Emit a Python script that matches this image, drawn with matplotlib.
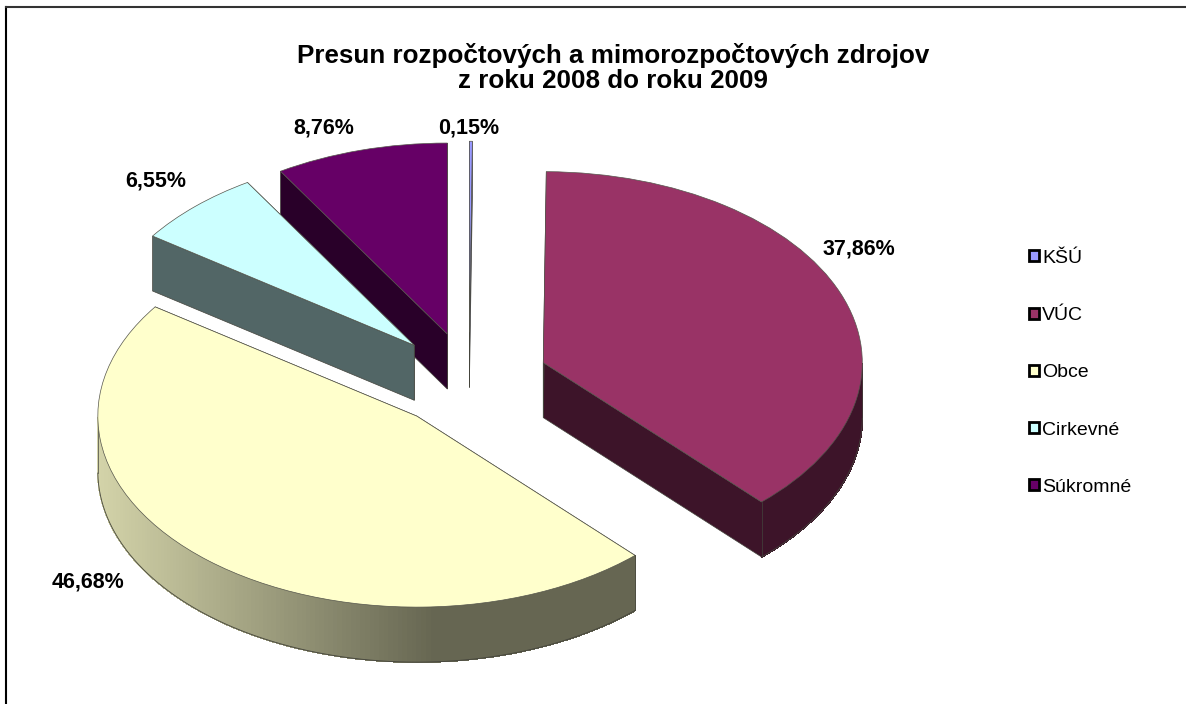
import numpy as np
from matplotlib import pyplot as plt
from matplotlib.collections import PolyCollection
from matplotlib.colors import to_rgb
from matplotlib.lines import Line2D
from matplotlib.patches import Polygon, Patch

categories = ['KŠÚ', 'VÚC', 'Obce', 'Cirkevné', 'Súkromné']
values = [0.15, 37.86, 46.68, 6.55, 8.76]
colors = ['#9999ff', '#993366', '#ffffcc', '#ccffff', '#660066']
title = 'Presun rozpočtových a mimorozpočtových zdrojov\nz roku 2008 do roku 2009'

W, H = 1186, 704
# pie size on the page, excel squashes the circle into an ellipse
cx, cy, rx, ry = 469, 380, 319, 191
depth = 55 / ry
explode = 0.25
draw_order = [4, 0, 3, 1, 2]
label_pos = [(469, 128), (859, 249), (88, 582), (156, 181), (324, 128)]

plt.rcParams['font.family'] = ['Liberation Sans', 'DejaVu Sans']

fig = plt.figure(figsize=(W / 100, H / 100), dpi=100)
ax = fig.add_axes([0, 0, 1, 1])
wedges, _ = ax.pie(values, colors=colors, startangle=90, counterclock=False,
                   explode=[explode] * len(values),
                   wedgeprops=dict(edgecolor='#55554c', linewidth=0.5))
ax.set_aspect('auto')
ax.set_xlim(-cx / rx, (W - cx) / rx)
ax.set_ylim((cy - H) / ry, cy / ry)
ax.axis('off')


def shade(color, x):
    # side walls get darker from left to right
    f = np.interp(x, [-1, 0.05], [0.83, 0.4])
    return tuple(c * f for c in to_rgb(color))


for n, i in enumerate(draw_order):
    w = wedges[i]
    x0, y0 = w.center
    t = np.radians(np.linspace(w.theta1, w.theta2, 200))
    ax_z = 10 + n * 3
    w.set_zorder(ax_z + 2)

    # cut faces from the centre of the slice to the rim
    for a in (t[0], t[-1]):
        px, py = x0 + np.cos(a), y0 + np.sin(a)
        face = [(x0, y0), (px, py), (px, py - depth), (x0, y0 - depth)]
        ax.add_patch(Polygon(face, closed=True, zorder=ax_z,
                             facecolor=shade(colors[i], 1),
                             edgecolor='#44443c', linewidth=0.5))

    # rim, only the front half of the ellipse can be seen
    front = t[np.sin(t) <= 0]
    if len(front) > 1:
        xs = x0 + np.cos(front)
        ys = y0 + np.sin(front)
        quads = [[(xs[k], ys[k]), (xs[k + 1], ys[k + 1]),
                  (xs[k + 1], ys[k + 1] - depth), (xs[k], ys[k] - depth)]
                 for k in range(len(front) - 1)]
        quad_colors = [shade(colors[i], np.cos(a)) for a in front[:-1]]
        ax.add_collection(PolyCollection(quads, facecolors=quad_colors,
                                         edgecolors=quad_colors, linewidths=0.6,
                                         antialiaseds=False, zorder=ax_z + 1))
        ax.plot(xs, ys - depth, color='#44443c', lw=0.6, zorder=ax_z + 1)
        ax.plot([xs[0], xs[0]], [ys[0], ys[0] - depth], color='#44443c', lw=0.5,
                zorder=ax_z + 1)
        ax.plot([xs[-1], xs[-1]], [ys[-1], ys[-1] - depth], color='#44443c', lw=0.5,
                zorder=ax_z + 1)

# value labels
for v, (px, py) in zip(values, label_pos):
    fig.text(px / W, 1 - py / H, f'{v:.2f}'.replace('.', ',') + '%', ha='center',
             va='center', fontsize=15.5, fontweight='bold', color='black')

fig.text(613 / W, 1 - 68 / H, title, ha='center', va='center', fontsize=18.7,
         fontweight='bold', linespacing=1.08)

handles = [Patch(facecolor=c, edgecolor='black', linewidth=2) for c in colors]
fig.legend(handles, categories, loc='upper left',
           bbox_to_anchor=(1021 / W, 1 - 242 / H), frameon=False, fontsize=14,
           handlelength=0.5, handleheight=0.5, handletextpad=0.2,
           labelspacing=2.07, borderpad=0.4, borderaxespad=0)

# chart frame, only top and left are inside the picture
fig.add_artist(Line2D([6 / W, 6 / W], [0, 1 - 7 / H], color='black', lw=1.5))
fig.add_artist(Line2D([6 / W, 1], [1 - 7 / H, 1 - 7 / H], color='#333333', lw=1.5))

fig.savefig('out.png', dpi=100)
